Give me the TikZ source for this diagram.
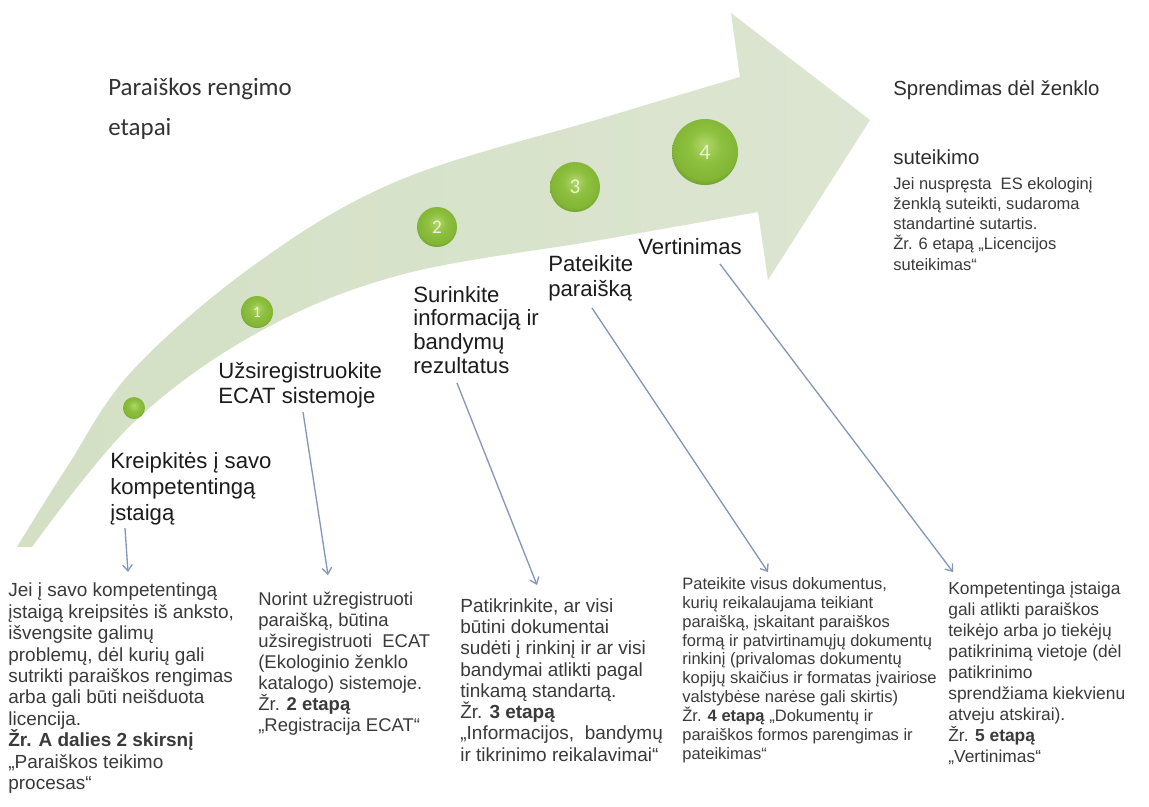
\documentclass[tikz,border=0pt]{standalone}
\usepackage{fontspec}
\setmainfont{Liberation Sans}
\newfontfamily\calibri{Carlito}
\usetikzlibrary{arrows.meta}
\definecolor{bandL}{HTML}{D3E0C4}
\definecolor{bandR}{HTML}{DCE5D1}
\definecolor{gbhi}{HTML}{B2D66C}
\definecolor{gbmid}{HTML}{8FC140}
\definecolor{gbedge}{HTML}{83B536}
\definecolor{gbdark}{HTML}{66962A}
\definecolor{numcol}{HTML}{E9F4D2}
\definecolor{connblue}{HTML}{8497BA}
\definecolor{bodytext}{HTML}{3A3A3A}
\definecolor{steptext}{HTML}{1C1C1C}
\pgfdeclareradialshading{greenball}{\pgfpoint{0bp}{6bp}}{color(0bp)=(gbhi); color(12bp)=(gbmid); color(24bp)=(gbedge); color(30bp)=(gbdark); color(50bp)=(gbdark)}
\begin{document}
\begin{tikzpicture}[x=0.02cm,y=-0.02cm,
  ball/.style={circle, shading=greenball, inner sep=0, text=numcol, font=\calibri},
  steplabel/.style={anchor=base west, inner sep=0, align=left, text=steptext},
  body/.style={anchor=base west, inner sep=0, align=left, text=bodytext},
  conn/.style={draw=connblue, line width=0.75pt, -{Straight Barb[length=3.5pt,width=5.5pt]}},
]
\useasboundingbox (0,0) rectangle (1149,806);
\fill[white] (0,0) rectangle (1149,806);
% curved arrow band
\shade[left color=bandL, right color=bandR]
  plot[smooth, tension=0.6] coordinates {(17,547) (67,467) (133,370) (257,263) (400,180) (606,117) (740,77)}
  -- (731,13) -- (870,120) -- (768,280)
  -- plot[smooth, tension=0.6] coordinates {(758,212) (600,240) (400,275) (257,333) (133,423) (32,547)}
  -- cycle;
% titles (anchor = baseline of last line)
\node[anchor=base west, inner sep=0, align=left, text=black!80, font={\calibri\fontsize{14.2}{22.7}\selectfont}] (title) at (108,135) {Paraiškos rengimo\\etapai};
\node[anchor=base west, inner sep=0, text=black!82, font=\fontsize{11.6}{13}\selectfont] (dec1) at (893,95) {Sprendimas dėl ženklo};
\node[anchor=base west, inner sep=0, text=black!82, font=\fontsize{11.6}{13}\selectfont] (dec2) at (893,164) {suteikimo};
% balls
\node[ball, minimum size=0.44cm] (b0) at (134,408) {};
\node[ball, minimum size=0.64cm, font=\calibri\fontsize{9}{9}\selectfont] (b1) at (257,312) {1};
\node[ball, minimum size=0.80cm, font=\calibri\fontsize{11}{11}\selectfont] (b2) at (437,227) {2};
\node[ball, minimum size=1.00cm, font=\calibri\fontsize{12}{12}\selectfont] (b3) at (575,187) {3};
\node[ball, minimum size=1.32cm, font=\calibri\fontsize{12.5}{12.5}\selectfont] (b4) at (705,152) {4};
% step labels
\node[steplabel, font=\fontsize{12.6}{14.7}\selectfont] (s0) at (110,520) {Kreipkitės į savo\\kompetentingą\\įstaigą};
\node[steplabel, font=\fontsize{12.6}{14.2}\selectfont] (s1) at (218,403) {Užsiregistruokite\\ECAT sistemoje};
\node[steplabel, font=\fontsize{12.6}{13.4}\selectfont] (s2) at (413,373) {Surinkite\\informaciją ir\\bandymų\\rezultatus};
\node[steplabel, font=\fontsize{12.6}{14.2}\selectfont] (s3) at (548,296) {Pateikite\\paraišką};
\node[steplabel, font=\fontsize{12.6}{14.2}\selectfont] (s4) at (638,254) {Vertinimas};
% body blocks
\node[body, font=\fontsize{10.8}{12.19}\selectfont] (t0) at (8,789.5) {Jei į savo kompetentingą\\įstaigą kreipsitės iš anksto,\\išvengsite galimų\\problemų, dėl kurių gali\\sutrikti paraiškos rengimas\\arba gali būti neišduota\\licencija.\\\textbf{Žr. A dalies 2 skirsnį}\\„Paraiškos teikimo\\procesas“};
\node[body, font=\fontsize{10.5}{11.9}\selectfont] (t1) at (258,731) {Norint užregistruoti\\paraišką, būtina\\užsiregistruoti \ ECAT\\(Ekologinio ženklo\\katalogo) sistemoje.\\Žr. \textbf{2 etapą}\\„Registracija ECAT“};
\node[body, font=\fontsize{10.8}{12.07}\selectfont] (t2) at (460,761) {Patikrinkite, ar visi\\būtini dokumentai\\sudėti į rinkinį ir ar visi\\bandymai atlikti pagal\\tinkamą standartą.\\Žr. \textbf{3 etapą}\\„Informacijos, \ bandymų\\ir tikrinimo reikalavimai“};
\node[body, font=\fontsize{9.4}{10.71}\selectfont] (t3) at (682,759) {Pateikite visus dokumentus,\\kurių reikalaujama teikiant\\paraišką, įskaitant paraiškos\\formą ir patvirtinamųjų dokumentų\\rinkinį (privalomas dokumentų\\kopijų skaičius ir formatas įvairiose\\valstybėse narėse gali skirtis)\\Žr. \textbf{4 etapą} „Dokumentų ir\\paraiškos formos parengimas ir\\pateikimas“};
\node[body, font=\fontsize{9.9}{11.9}\selectfont] (t4) at (948,762) {Kompetentinga įstaiga\\gali atlikti paraiškos\\teikėjo arba jo tiekėjų\\patikrinimą vietoje (dėl\\patikrinimo\\sprendžiama kiekvienu\\atveju atskirai).\\Žr. \textbf{5 etapą}\\„Vertinimas“};
\node[body, font=\fontsize{9.4}{11.5}\selectfont] (t5) at (893,270) {Jei nuspręsta \ ES ekologinį\\ženklą suteikti, sudaroma\\standartinė sutartis.\\Žr. 6 etapą „Licencijos\\suteikimas“};
% connector ends
\coordinate (c0s) at (125,528); \coordinate (c0e) at (128,572);
\coordinate (c1s) at (303,412); \coordinate (c1e) at (328,575);
\coordinate (c2s) at (457,383); \coordinate (c2e) at (537,585);
\coordinate (c3s) at (592,308); \coordinate (c3e) at (768,572);
\coordinate (c4s) at (720,264); \coordinate (c4e) at (953,572);
\draw[conn] (c0s) -- (c0e);
\draw[conn] (c1s) -- (c1e);
\draw[conn] (c2s) -- (c2e);
\draw[conn] (c3s) -- (c3e);
\draw[conn] (c4s) -- (c4e);
\end{tikzpicture}
\end{document}
